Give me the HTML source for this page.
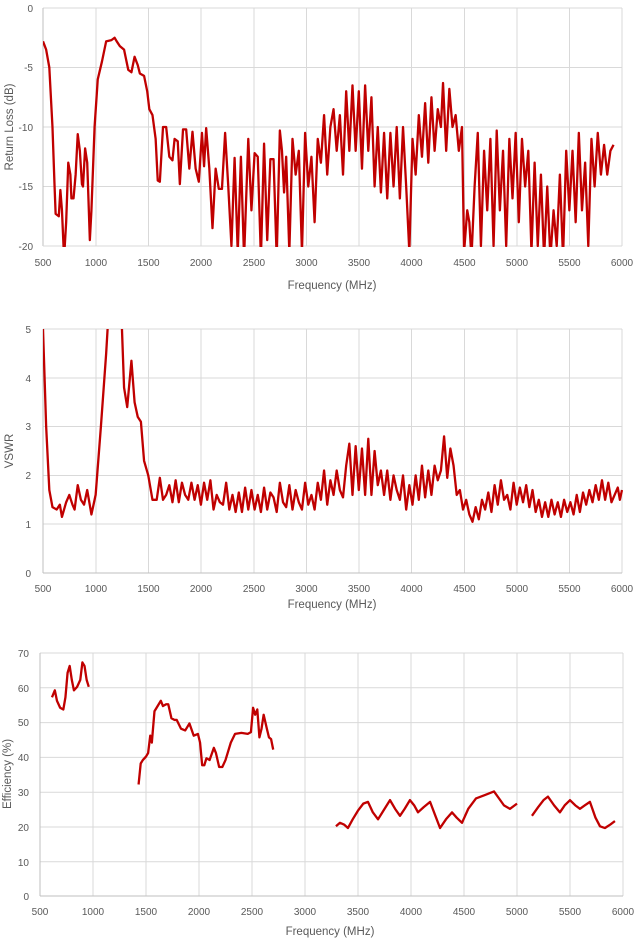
<!DOCTYPE html>
<html><head><meta charset="utf-8"><style>
html,body{margin:0;padding:0;background:#fff;}
svg{display:block;font-family:"Liberation Sans",sans-serif;}
.g{stroke:#d9d9d9;stroke-width:1;}
.t{fill:#595959;font-size:10px;}
.s{fill:none;stroke:#c00000;stroke-width:2.3;stroke-linejoin:round;}
</style></head><body>
<svg width="638" height="944" viewBox="0 0 638 944">
<defs>
<clipPath id="c1"><rect x="43" y="8" width="580" height="239"/></clipPath>
<clipPath id="c2"><rect x="43" y="329" width="580" height="245"/></clipPath>
</defs>
<!-- Chart 1 -->
<g class="g">
<line x1="43" y1="8" x2="622" y2="8"/><line x1="43" y1="67.5" x2="622" y2="67.5"/><line x1="43" y1="127" x2="622" y2="127"/><line x1="43" y1="186.5" x2="622" y2="186.5"/>
<line x1="96" y1="8" x2="96" y2="246"/><line x1="148.5" y1="8" x2="148.5" y2="246"/><line x1="201" y1="8" x2="201" y2="246"/><line x1="254" y1="8" x2="254" y2="246"/><line x1="306.5" y1="8" x2="306.5" y2="246"/><line x1="359" y1="8" x2="359" y2="246"/><line x1="411.5" y1="8" x2="411.5" y2="246"/><line x1="464.5" y1="8" x2="464.5" y2="246"/><line x1="517" y1="8" x2="517" y2="246"/><line x1="569.5" y1="8" x2="569.5" y2="246"/><line x1="622" y1="8" x2="622" y2="246"/>
<line x1="43" y1="8" x2="43" y2="246" stroke="#bfbfbf"/><line x1="43" y1="246" x2="622" y2="246"/>
</g>
<g class="t" text-anchor="end"><text x="33" y="12">0</text><text x="33" y="71">-5</text><text x="33" y="131">-10</text><text x="33" y="190">-15</text><text x="33" y="250">-20</text></g>
<g class="t" text-anchor="middle"><text x="43" y="266">500</text><text x="96" y="266">1000</text><text x="148.5" y="266">1500</text><text x="201" y="266">2000</text><text x="254" y="266">2500</text><text x="306.5" y="266">3000</text><text x="359" y="266">3500</text><text x="411.5" y="266">4000</text><text x="464.5" y="266">4500</text><text x="517" y="266">5000</text><text x="569.5" y="266">5500</text><text x="622" y="266">6000</text></g>
<text x="332" y="289" text-anchor="middle" fill="#595959" font-size="11.5">Frequency (MHz)</text>
<text transform="translate(13,127) rotate(-90)" text-anchor="middle" fill="#595959" font-size="11.5">Return Loss (dB)</text>
<g clip-path="url(#c1)">
<polyline class="s" transform="translate(43,8) scale(0.10527,-11.9) translate(-500,0)" style="vector-effect:non-scaling-stroke" points="500,-2.8 530,-3.5 560,-5 590,-10 610,-15 620,-17.3 650,-17.5 665,-15.3 680,-17 700,-21 720,-18 740,-13 760,-14 770,-16 790,-16 810,-14 830,-10.6 850,-12 870,-14.8 880,-15 900,-11.8 920,-13 945,-19.5 960,-17 990,-10 1020,-6 1060,-4.5 1100,-2.8 1150,-2.7 1180,-2.5 1200,-2.8 1230,-3.2 1270,-3.5 1310,-5.2 1340,-5.4 1370,-4.1 1400,-4.8 1420,-5.5 1460,-5.7 1490,-7 1510,-8.5 1540,-9 1570,-11 1590,-14.5 1610,-14.6 1640,-10 1670,-10 1700,-12.5 1730,-12.8 1750,-11 1780,-11.2 1800,-14.8 1830,-10.2 1860,-10.2 1890,-13.5 1920,-10.4 1950,-13.5 1980,-14.6 2010,-10.5 2030,-13.3 2050,-10.1 2080,-13.5 2110,-18.5 2140,-13.5 2170,-15.2 2200,-15.2 2230,-10.5 2260,-15 2290,-20 2320,-12.6 2350,-20.5 2380,-12.5 2410,-21 2450,-11 2480,-17 2510,-12.2 2540,-12.5 2570,-21 2600,-11.4 2630,-19.5 2660,-12.7 2690,-12.7 2720,-21 2750,-10.3 2770,-12 2790,-15.5 2810,-12.5 2840,-20.5 2870,-11 2900,-14 2930,-12 2960,-20.5 2990,-10.5 3020,-15 3050,-12.5 3080,-18 3110,-11 3140,-13 3170,-9 3200,-14 3230,-10 3260,-8.5 3290,-12 3320,-9 3350,-14 3380,-7 3410,-12 3440,-6.5 3470,-12 3500,-7 3530,-13.5 3560,-6.5 3590,-12 3620,-7.5 3650,-15 3680,-10 3710,-15.5 3740,-10.5 3770,-16 3800,-10.5 3830,-15 3860,-10 3890,-16 3920,-10 3950,-15 3980,-20.5 4010,-11 4040,-14 4070,-9 4100,-12.5 4130,-8 4160,-13 4190,-7.5 4220,-12 4250,-8.5 4280,-10 4300,-6.3 4330,-12 4360,-6.8 4390,-10 4420,-9 4450,-12 4480,-10 4500,-20.5 4530,-17 4550,-18 4570,-21 4600,-15 4630,-10.5 4660,-20 4690,-12 4720,-17 4750,-11 4780,-20 4810,-10.3 4840,-17 4870,-12 4900,-20 4930,-11 4960,-16 4990,-10.5 5020,-18 5050,-11 5080,-15 5110,-12 5140,-20.5 5170,-13 5200,-20 5230,-14 5260,-21 5290,-15 5320,-21 5350,-17 5380,-20 5410,-14 5440,-21 5470,-12 5500,-17 5530,-12 5560,-18 5590,-10.5 5620,-17 5650,-13 5680,-20 5710,-11 5740,-15 5770,-10.5 5800,-14 5830,-11.5 5860,-14 5890,-12 5920,-11.5"/>
</g>

<!-- Chart 2 -->
<g class="g">
<line x1="43" y1="329" x2="622" y2="329"/><line x1="43" y1="378" x2="622" y2="378"/><line x1="43" y1="426.5" x2="622" y2="426.5"/><line x1="43" y1="475.5" x2="622" y2="475.5"/><line x1="43" y1="524" x2="622" y2="524"/>
<line x1="96" y1="329" x2="96" y2="573"/><line x1="148.5" y1="329" x2="148.5" y2="573"/><line x1="201" y1="329" x2="201" y2="573"/><line x1="254" y1="329" x2="254" y2="573"/><line x1="306.5" y1="329" x2="306.5" y2="573"/><line x1="359" y1="329" x2="359" y2="573"/><line x1="411.5" y1="329" x2="411.5" y2="573"/><line x1="464.5" y1="329" x2="464.5" y2="573"/><line x1="517" y1="329" x2="517" y2="573"/><line x1="569.5" y1="329" x2="569.5" y2="573"/><line x1="622" y1="329" x2="622" y2="573"/>
<line x1="43" y1="329" x2="43" y2="573" stroke="#bfbfbf"/><line x1="43" y1="573" x2="622" y2="573" stroke="#bfbfbf"/>
</g>
<g class="t" text-anchor="end"><text x="31" y="333">5</text><text x="31" y="382">4</text><text x="31" y="430">3</text><text x="31" y="479">2</text><text x="31" y="528">1</text><text x="31" y="577">0</text></g>
<g class="t" text-anchor="middle"><text x="43" y="592">500</text><text x="96" y="592">1000</text><text x="148.5" y="592">1500</text><text x="201" y="592">2000</text><text x="254" y="592">2500</text><text x="306.5" y="592">3000</text><text x="359" y="592">3500</text><text x="411.5" y="592">4000</text><text x="464.5" y="592">4500</text><text x="517" y="592">5000</text><text x="569.5" y="592">5500</text><text x="622" y="592">6000</text></g>
<text x="332" y="608" text-anchor="middle" fill="#595959" font-size="11.5">Frequency (MHz)</text>
<text transform="translate(13,451) rotate(-90)" text-anchor="middle" fill="#595959" font-size="11.5">VSWR</text>
<g clip-path="url(#c2)">
<polyline class="s" transform="translate(43,573) scale(0.10527,-48.8) translate(-500,0)" style="vector-effect:non-scaling-stroke" points="500,5 530,3 560,1.7 590,1.35 630,1.3 660,1.4 680,1.15 720,1.45 750,1.6 780,1.4 800,1.3 830,1.8 860,1.5 890,1.4 920,1.7 960,1.2 1000,1.6 1050,3 1100,4.5 1130,5.6 1240,5.6 1270,3.8 1300,3.4 1340,4.35 1370,3.5 1400,3.2 1430,3.1 1460,2.3 1500,2 1540,1.5 1580,1.5 1610,1.95 1640,1.5 1670,1.6 1700,1.8 1730,1.45 1760,1.9 1790,1.45 1820,1.85 1850,1.6 1880,1.5 1910,1.85 1940,1.5 1970,1.8 2000,1.4 2030,1.85 2060,1.5 2090,1.9 2120,1.3 2150,1.6 2180,1.45 2210,1.4 2240,1.85 2270,1.3 2300,1.6 2330,1.25 2360,1.65 2390,1.25 2420,1.75 2450,1.3 2480,1.7 2510,1.3 2540,1.6 2570,1.25 2600,1.75 2630,1.3 2660,1.65 2690,1.55 2720,1.25 2750,1.85 2780,1.45 2810,1.35 2840,1.8 2870,1.3 2900,1.7 2930,1.45 2960,1.3 2990,1.85 3020,1.4 3050,1.6 3080,1.3 3110,1.85 3140,1.5 3170,2.1 3200,1.4 3230,1.9 3260,1.6 3290,2.1 3320,1.7 3350,1.55 3380,2.2 3410,2.65 3440,1.6 3470,2.6 3500,1.7 3530,2.55 3560,1.6 3590,2.75 3620,1.6 3650,2.5 3680,1.8 3710,2.1 3740,1.6 3770,2.1 3800,1.5 3830,2.0 3860,1.7 3890,1.5 3920,2.0 3950,1.3 3980,1.8 4010,1.4 4040,2.0 4070,1.5 4100,2.2 4130,1.55 4160,2.1 4190,1.6 4220,2.2 4250,1.9 4280,2.1 4310,2.8 4340,1.95 4370,2.55 4400,2.2 4430,1.6 4460,1.7 4490,1.3 4520,1.5 4550,1.2 4580,1.05 4610,1.35 4640,1.1 4670,1.5 4700,1.3 4730,1.65 4760,1.25 4790,1.8 4820,1.4 4850,1.9 4880,1.5 4910,1.6 4940,1.3 4970,1.85 5000,1.4 5030,1.75 5060,1.45 5090,1.8 5120,1.35 5150,1.7 5180,1.25 5210,1.5 5240,1.15 5270,1.45 5300,1.15 5330,1.5 5360,1.2 5390,1.45 5420,1.15 5450,1.5 5480,1.25 5510,1.45 5540,1.2 5570,1.6 5600,1.25 5630,1.65 5660,1.4 5690,1.7 5720,1.45 5750,1.8 5780,1.5 5810,1.9 5840,1.5 5870,1.85 5900,1.45 5930,1.6 5960,1.75 5980,1.5 6000,1.7"/>
</g>

<!-- Chart 3 -->
<g class="g">
<line x1="40" y1="653" x2="623" y2="653"/><line x1="40" y1="687.8" x2="623" y2="687.8"/><line x1="40" y1="722.6" x2="623" y2="722.6"/><line x1="40" y1="757.4" x2="623" y2="757.4"/><line x1="40" y1="792.2" x2="623" y2="792.2"/><line x1="40" y1="827" x2="623" y2="827"/><line x1="40" y1="861.8" x2="623" y2="861.8"/>
<line x1="93" y1="653" x2="93" y2="896"/><line x1="146" y1="653" x2="146" y2="896"/><line x1="199" y1="653" x2="199" y2="896"/><line x1="252" y1="653" x2="252" y2="896"/><line x1="305" y1="653" x2="305" y2="896"/><line x1="358" y1="653" x2="358" y2="896"/><line x1="411" y1="653" x2="411" y2="896"/><line x1="464" y1="653" x2="464" y2="896"/><line x1="517" y1="653" x2="517" y2="896"/><line x1="570" y1="653" x2="570" y2="896"/><line x1="623" y1="653" x2="623" y2="896"/>
<line x1="40" y1="653" x2="40" y2="896" stroke="#bfbfbf"/><line x1="40" y1="896" x2="623" y2="896" stroke="#bfbfbf"/>
</g>
<g class="t" text-anchor="end"><text x="29" y="657">70</text><text x="29" y="692">60</text><text x="29" y="726">50</text><text x="29" y="761">40</text><text x="29" y="796">30</text><text x="29" y="831">20</text><text x="29" y="866">10</text><text x="29" y="900">0</text></g>
<g class="t" text-anchor="middle"><text x="40" y="915">500</text><text x="93" y="915">1000</text><text x="146" y="915">1500</text><text x="199" y="915">2000</text><text x="252" y="915">2500</text><text x="305" y="915">3000</text><text x="358" y="915">3500</text><text x="411" y="915">4000</text><text x="464" y="915">4500</text><text x="517" y="915">5000</text><text x="570" y="915">5500</text><text x="623" y="915">6000</text></g>
<text x="330" y="935" text-anchor="middle" fill="#595959" font-size="11.5">Frequency (MHz)</text>
<text transform="translate(11,774) rotate(-90)" text-anchor="middle" fill="#595959" font-size="11.5">Efficiency (%)</text>
<g transform="translate(40,896) scale(0.106,-3.486) translate(-500,0)">
<polyline class="s" style="vector-effect:non-scaling-stroke" points="613,57 640,59 660,56 690,54 720,53.5 740,57 760,64 780,66 800,62 820,59 850,60 880,62 900,67 920,66 940,62 960,60"/>
<polyline class="s" style="vector-effect:non-scaling-stroke" points="1430,32 1450,38 1470,39 1500,40 1520,41 1540,46 1555,44 1580,53 1620,55 1640,56 1660,54.5 1690,55 1710,55 1740,51 1770,50.5 1790,50.5 1830,48 1870,47.5 1910,49.5 1950,46 1990,46.5 2010,44 2030,37.5 2050,37.5 2070,39.5 2100,39 2140,42.5 2160,41 2190,37 2220,37 2250,39 2300,44 2340,46.5 2400,46.8 2460,46.5 2490,47 2510,54 2530,52 2550,53.5 2570,45.5 2590,48 2610,52 2640,48 2660,45.5 2680,45 2700,42"/>
<polyline class="s" style="vector-effect:non-scaling-stroke" points="3292,20 3330,21 3368,20.5 3405,19.5 3450,22 3500,24.5 3550,26.5 3594,27 3640,24 3689,22 3740,24.5 3802,27.5 3850,25 3896,23 3940,25 3990,27.5 4030,26 4066,24 4120,25.5 4180,27 4230,23 4274,19.5 4330,22 4387,24 4430,22.5 4481,21 4540,25 4613,28 4700,29 4783,30 4830,28 4877,26 4934,25 5000,26.5"/>
<polyline class="s" style="vector-effect:non-scaling-stroke" points="5141,23 5200,25.5 5250,27.5 5292,28.5 5350,26 5405,24 5450,26 5500,27.5 5550,26 5594,25 5640,26 5688,27 5740,22.5 5783,20 5830,19.5 5880,20.5 5924,21.5"/>
</g>
</svg>
</body></html>
